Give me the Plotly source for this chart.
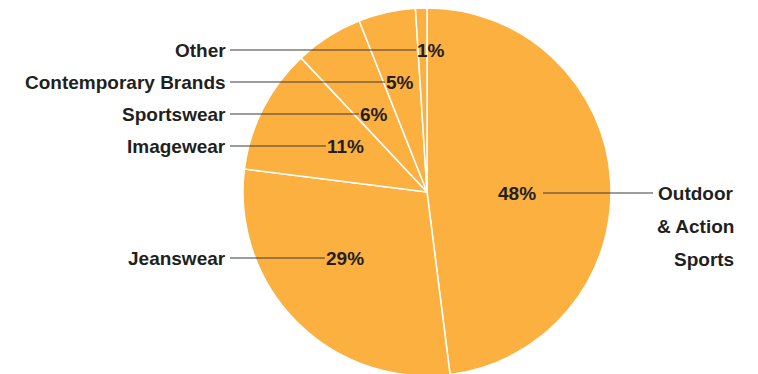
import plotly.graph_objects as go

# Data
categories = ["Outdoor & Action Sports", "Jeanswear", "Imagewear", "Sportswear",
              "Contemporary Brands", "Other"]
values = [48, 29, 11, 6, 5, 1]
pct_labels = ["48%", "29%", "11%", "6%", "5%", "1%"]

W, H = 758, 378
ORANGE = "#FCB040"
TEXT = "#231F20"
LINE = "#3A3A3A"
FONT = dict(family="Liberation Sans, Arial, sans-serif", size=19, color=TEXT, weight="bold")

def px(x):
    return x / W

def py(y):
    return 1 - y / H

fig = go.Figure(go.Pie(
    labels=categories, values=values, sort=False, direction="clockwise", rotation=0,
    marker=dict(colors=[ORANGE] * len(values), line=dict(color="white", width=1.5)),
    textinfo="none", hoverinfo="label+percent", showlegend=False,
    domain=dict(x=[px(243), px(611)], y=[py(376), py(8)]),
))

# Label layout (pixel positions): left labels with leader lines to percentages
left_cfg = {  # category: (y, percent-text left x)
    "Other": (50, 417),
    "Contemporary Brands": (82, 386),
    "Sportswear": (114, 360),
    "Imagewear": (146, 327),
    "Jeanswear": (258, 326),
}
annotations = []
shapes = []
for cat, pct in zip(categories, pct_labels):
    if cat in left_cfg:
        y, xp = left_cfg[cat]
        annotations.append(dict(x=px(228), y=py(y), xref="paper", yref="paper", text=cat,
                                showarrow=False, xanchor="right", yanchor="middle", font=FONT))
        annotations.append(dict(x=px(xp - 2), y=py(y), xref="paper", yref="paper", text=pct,
                                showarrow=False, xanchor="left", yanchor="middle", font=FONT))
        shapes.append(dict(type="line", xref="paper", yref="paper", x0=px(230), x1=px(xp - 1),
                           y0=py(y), y1=py(y), line=dict(color=LINE, width=1)))
    else:
        y = 193
        annotations.append(dict(x=px(496), y=py(y), xref="paper", yref="paper", text=pct,
                                showarrow=False, xanchor="left", yanchor="middle", font=FONT))
        shapes.append(dict(type="line", xref="paper", yref="paper", x0=px(543), x1=px(653),
                           y0=py(y), y1=py(y), line=dict(color=LINE, width=1)))
        for i, part in enumerate(["Outdoor", "&amp; Action", "Sports"]):
            annotations.append(dict(x=px(736), y=py(193 + 33 * i), xref="paper", yref="paper",
                                    text=part, showarrow=False, xanchor="right", yanchor="middle",
                                    font=FONT))

fig.update_layout(
    width=W, height=H, margin=dict(l=0, r=0, t=0, b=0),
    paper_bgcolor="white", plot_bgcolor="white",
    annotations=annotations, shapes=shapes,
)
fig.write_html("out.html", config={"displayModeBar": False},
               post_script="document.body.style.margin='0px';document.body.style.overflow='hidden';")
